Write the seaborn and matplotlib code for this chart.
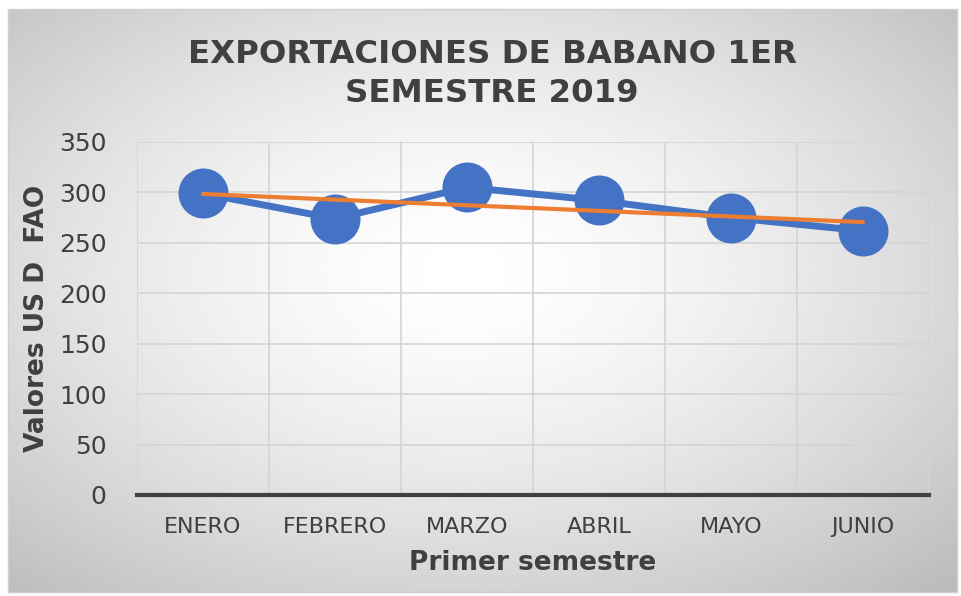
import numpy as np
import pandas as pd
import matplotlib
matplotlib.use("Agg")
import matplotlib.pyplot as plt
import seaborn as sns

# datos
meses = ["ENERO", "FEBRERO", "MARZO", "ABRIL", "MAYO", "JUNIO"]
valores = [299, 274, 305, 292, 275, 262]

sns.set_style("white")
plt.rcParams['font.family'] = ['DejaVu Sans']

df = pd.DataFrame({'Mes': meses, 'Valor': valores})

# tendencia lineal (como en Excel)
xs = np.arange(len(meses))
coef = np.polyfit(xs, valores, 1)
df['Tendencia'] = np.polyval(coef, xs)

fig = plt.figure(figsize=(9.61, 5.96), dpi=100)
fig.patch.set_facecolor('white')

# fondo con degradado radial
bg = fig.add_axes([8 / 961, 1 - 592 / 596, 949 / 961, 583 / 596], zorder=0)
yy, xx = np.mgrid[0:1:300j, 0:1:500j]
r = np.sqrt(((xx - 0.48) / 0.75) ** 2 + ((yy - 0.45) / 0.75) ** 2)
grad = 1 - 0.27 * np.clip(r, 0, 1) ** 1.5
bg.imshow(grad, cmap='gray', vmin=0, vmax=1, aspect='auto', extent=[0, 1, 0, 1])
bg.set_xticks([])
bg.set_yticks([])
for s in bg.spines.values():
    s.set_color('#d0d0d0')
    s.set_linewidth(1)

ax = fig.add_axes([137 / 961, 1 - 495 / 596, 792 / 961, 353 / 596], zorder=1)
ax.patch.set_alpha(0)

sns.lineplot(data=df, x='Mes', y='Valor', ax=ax, color='#4472C4', linewidth=5,
             marker='o', markersize=36, markeredgewidth=0, zorder=3)
sns.lineplot(data=df, x='Mes', y='Tendencia', ax=ax, color='#ED7D31', linewidth=3, zorder=4)

ax.set_xlim(-0.5, 5.5)
ax.set_ylim(0, 350)
ax.set_yticks(np.arange(0, 351, 50))
ax.set_xticks(xs)
ax.set_xticklabels(meses)
ax.set_xticks(np.arange(-0.5, 6, 1), minor=True)
ax.grid(axis='y', color='#d4d4d4', linewidth=1.2)
ax.grid(axis='x', which='minor', color='#d4d4d4', linewidth=1.2)
ax.tick_params(axis='x', which='both', length=0)
ax.tick_params(axis='x', labelsize=16, labelcolor='#404040', pad=16)
ax.tick_params(axis='y', length=0, labelsize=18, labelcolor='#404040', pad=22)

for s in ['top', 'right', 'left']:
    ax.spines[s].set_visible(False)
ax.spines['bottom'].set_color('#404040')
ax.spines['bottom'].set_linewidth(3)

ax.set_xlabel('Primer semestre', fontsize=19, fontweight='bold', color='#404040', labelpad=9)
ax.set_ylabel('Valores US D  FAO', fontsize=19, fontweight='bold', color='#404040', labelpad=6)

fig.text(0.512, 1 - 74 / 596, 'EXPORTACIONES DE BABANO 1ER\nSEMESTRE 2019', ha='center', va='center',
         fontsize=23.3, fontweight='bold', color='#404040', linespacing=1.3)

fig.savefig('out.png', dpi=100)
